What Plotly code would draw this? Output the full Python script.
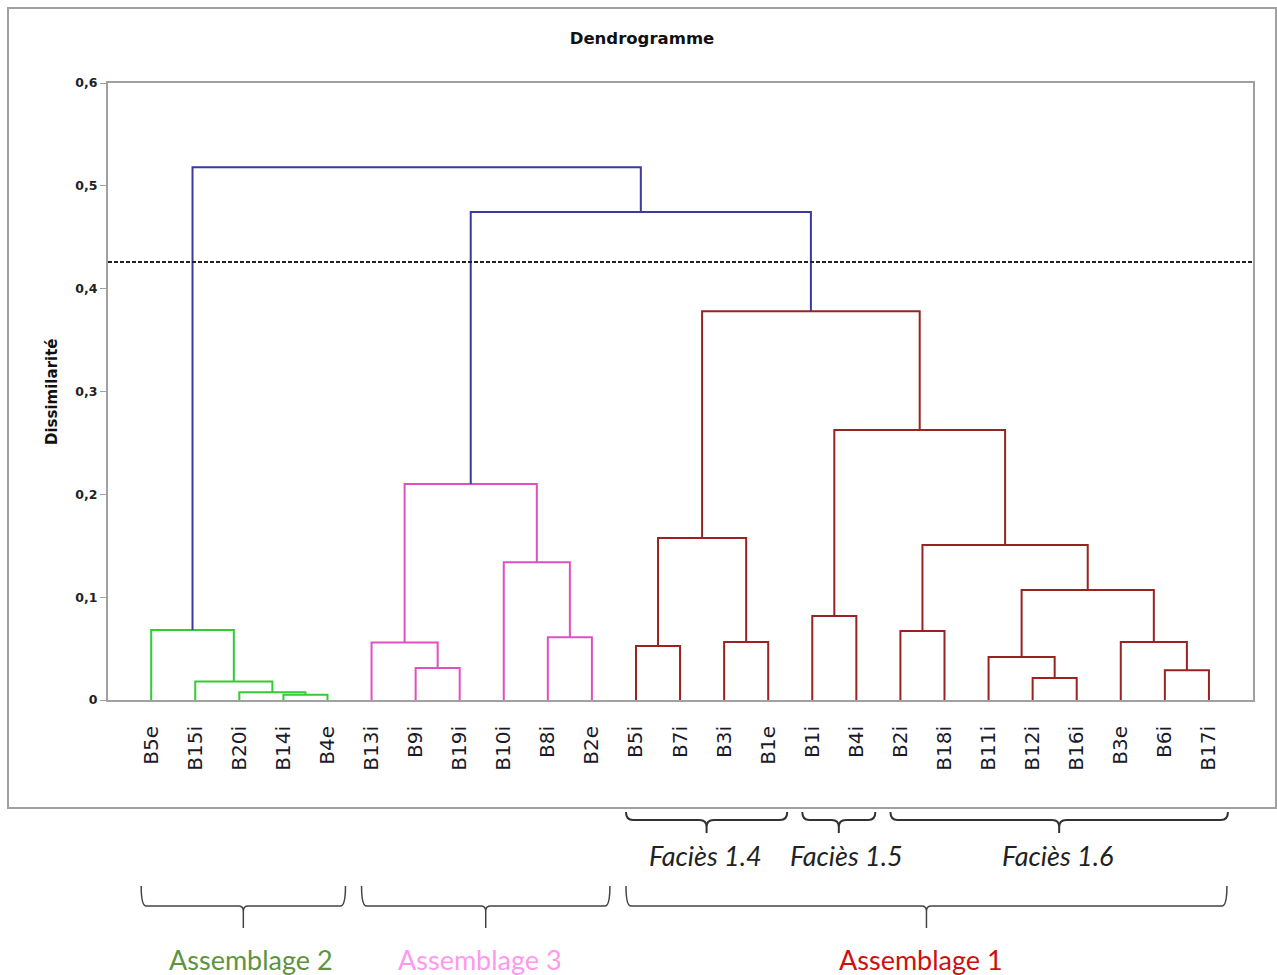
import plotly.graph_objects as go

# Leaf order along the horizontal axis
leaves = ["B5e", "B15i", "B20i", "B14i", "B4e",
          "B13i", "B9i", "B19i", "B10i", "B8i", "B2e",
          "B5i", "B7i", "B3i", "B1e", "B1i", "B4i", "B2i", "B18i",
          "B11i", "B12i", "B16i", "B3e", "B6i", "B17i"]

# Agglomeration steps: merge k joins merge_a[k] and merge_b[k] into node "c{k}"
merge_a = ["B14i", "B20i", "B15i", "B5e",
           "B9i", "B13i", "B8i", "B10i", "c5",
           "B5i", "B3i", "c9", "B1i", "B2i", "B12i", "B11i", "B6i", "B3e",
           "c15", "c13", "c12", "c11",
           "c8", "c3"]
merge_b = ["B4e", "c0", "c1", "c2",
           "B19i", "c4", "B2e", "c6", "c7",
           "B7i", "B1e", "c10", "B4i", "B18i", "B16i", "c14", "B17i", "c16",
           "c17", "c18", "c19", "c20",
           "c21", "c22"]
merge_height = [0.005, 0.0075, 0.018, 0.068,
                0.031, 0.056, 0.061, 0.134, 0.210,
                0.0525, 0.0564, 0.1575, 0.0817, 0.067, 0.0214, 0.0418, 0.029, 0.0564,
                0.107, 0.1507, 0.2626, 0.378,
                0.4746, 0.518]
merge_group = ["g", "g", "g", "g",
               "p", "p", "p", "p", "p",
               "r", "r", "r", "r", "r", "r", "r", "r", "r",
               "r", "r", "r", "r",
               "b", "b"]

cut_level = 0.426

y_ticks = [0, 0.1, 0.2, 0.3, 0.4, 0.5, 0.6]
y_tick_text = ["0", "0,1", "0,2", "0,3", "0,4", "0,5", "0,6"]

group_colors = {"g": "#33CC33", "p": "#E050C0", "r": "#992222", "b": "#3A3AA0"}

# Faciès and assemblage brackets: (label, first leaf, last leaf, label nudge px)
facies = [("Faciès 1.4", "B5i", "B1e", -1),
          ("Faciès 1.5", "B1i", "B4i", 8),
          ("Faciès 1.6", "B2i", "B17i", -2)]
assemblages = [("Assemblage 2", "B5e", "B4e", "#5E9440", 8),
               ("Assemblage 3", "B13i", "B2e", "#FF99EE", -6),
               ("Assemblage 1", "B5i", "B17i", "#CC1111", -5)]

# ---- node coordinates --------------------------------------------------
pos = {name: (float(i), 0.0) for i, name in enumerate(leaves)}
segments = {k: ([], []) for k in group_colors}
for k, (a, b, h, g) in enumerate(zip(merge_a, merge_b, merge_height, merge_group)):
    xa, ya = pos[a]
    xb, yb = pos[b]
    xs, ys = segments[g]
    xs += [xa, xa, xb, xb, None]
    ys += [ya, h, h, yb, None]
    pos[f"c{k}"] = ((xa + xb) / 2.0, h)

fig = go.Figure()
for g, (xs, ys) in segments.items():
    fig.add_trace(go.Scatter(x=xs, y=ys, mode="lines",
                             line=dict(color=group_colors[g], width=2),
                             hoverinfo="skip", showlegend=False))

# ---- geometry helpers (pixel <-> paper) --------------------------------
W, H = 1277, 975
L, R, T, B = 108, 24, 83, 275
PW, PH = W - L - R, H - T - B
X_RANGE = [-0.98, 25.0]


def px_x(px):
    return (px - L) / PW


def px_y(py):
    return (H - B - py) / PH


def leaf_px(name):
    i = leaves.index(name)
    return L + (i - X_RANGE[0]) / (X_RANGE[1] - X_RANGE[0]) * PW


def brace_path(x0, x1, ytop, ybar, ytip, r=7):
    xm = (x0 + x1) / 2.0
    pts = [
        f"M {px_x(x0)},{px_y(ytop)}",
        f"Q {px_x(x0)},{px_y(ybar)} {px_x(x0 + r)},{px_y(ybar)}",
        f"L {px_x(xm - r)},{px_y(ybar)}",
        f"Q {px_x(xm)},{px_y(ybar)} {px_x(xm)},{px_y(ybar + r)}",
        f"L {px_x(xm)},{px_y(ytip)}",
        f"M {px_x(xm)},{px_y(ybar + r)}",
        f"Q {px_x(xm)},{px_y(ybar)} {px_x(xm + r)},{px_y(ybar)}",
        f"L {px_x(x1 - r)},{px_y(ybar)}",
        f"Q {px_x(x1)},{px_y(ybar)} {px_x(x1)},{px_y(ytop)}",
    ]
    return " ".join(pts)


shapes = []
annotations = []

# outer frame of the chart
shapes.append(dict(type="rect", xref="paper", yref="paper",
                   x0=px_x(8), x1=px_x(1276), y0=px_y(808), y1=px_y(8),
                   line=dict(color="#A0A0A0", width=2), layer="below"))

# truncation level
shapes.append(dict(type="line", xref="paper", yref="y", x0=0, x1=1,
                   y0=cut_level, y1=cut_level,
                   line=dict(color="#222222", width=2, dash="4px,2px")))

for label, first, last, nudge in facies:
    x0 = leaf_px(first) - 10
    x1 = leaf_px(last) + 19
    shapes.append(dict(type="path", xref="paper", yref="paper",
                       path=brace_path(x0, x1, 812, 820, 833),
                       line=dict(color="#333333", width=2)))
    annotations.append(dict(xref="paper", yref="paper",
                            x=px_x((x0 + x1) / 2.0 + nudge), y=px_y(855),
                            text=label, showarrow=False,
                            font=dict(family="Lato", size=27, color="#222222",
                                      style="italic"),
                            xanchor="center", yanchor="middle"))

for label, first, last, color, nudge in assemblages:
    x0 = leaf_px(first) - 10
    x1 = leaf_px(last) + 18
    shapes.append(dict(type="path", xref="paper", yref="paper",
                       path=brace_path(x0, x1, 886, 906, 928, r=5),
                       line=dict(color="#444444", width=1.5)))
    annotations.append(dict(xref="paper", yref="paper",
                            x=px_x((x0 + x1) / 2.0 + nudge), y=px_y(960),
                            text=label, showarrow=False,
                            font=dict(family="Lato", size=27, color=color),
                            xanchor="center", yanchor="middle"))

# axis title
annotations.append(dict(xref="paper", yref="paper", x=px_x(52), y=px_y(392),
                        text="<b>Dissimilarité</b>", textangle=-90, showarrow=False,
                        font=dict(family="DejaVu Sans", size=15, color="#111111"),
                        xanchor="center", yanchor="middle"))

fig.update_layout(
    width=W, height=H,
    margin=dict(l=L, r=R, t=T, b=B),
    paper_bgcolor="white", plot_bgcolor="white",
    title=dict(text="<b>Dendrogramme</b>", x=642 / W, y=1 - 38 / H,
               xanchor="center", yanchor="middle",
               font=dict(family="DejaVu Sans", size=16.5, color="#111111")),
    shapes=shapes, annotations=annotations,
    showlegend=False,
    xaxis=dict(range=X_RANGE, tickmode="array",
               tickvals=list(range(len(leaves))), ticktext=leaves,
               tickangle=-90, ticks="", ticklabelstandoff=16,
               tickfont=dict(family="DejaVu Sans", size=20, color="#1A1A2A"),
               showgrid=False, zeroline=False,
               showline=True, mirror=True, linecolor="#A0A0A0", linewidth=2),
    yaxis=dict(range=[0, 0.6], tickmode="array", tickvals=y_ticks,
               ticktext=[f"<b>{t}</b>" for t in y_tick_text],
               ticks="outside", ticklen=6, tickcolor="#A0A0A0", tickwidth=1,
               tickfont=dict(family="DejaVu Sans", size=12.5, color="#222222"),
               showgrid=False, zeroline=False,
               showline=True, mirror=True, linecolor="#A0A0A0", linewidth=2),
)

fig.write_html("out.html")
